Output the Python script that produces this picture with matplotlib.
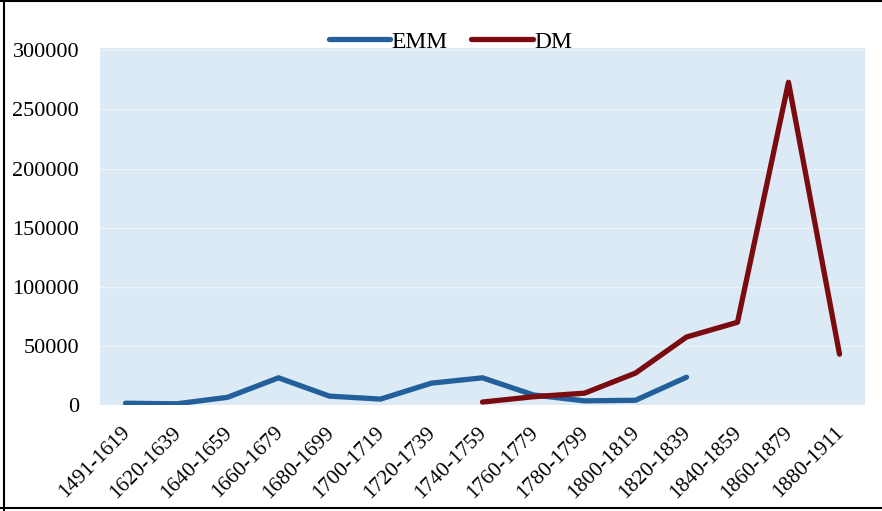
import matplotlib.pyplot as plt
import matplotlib.lines as mlines
import matplotlib.transforms as mtransforms
import numpy as np

# Migration counts per period
periods = ['1491-1619', '1620-1639', '1640-1659', '1660-1679', '1680-1699',
           '1700-1719', '1720-1739', '1740-1759', '1760-1779', '1780-1799',
           '1800-1819', '1820-1839', '1840-1859', '1860-1879', '1880-1911']
emm = [1500, 1000, 6500, 23000, 7500, 5000, 18500, 23000, 8500, 3500,
       4000, 23500, None, None, None]
dm = [None, None, None, None, None, None, None, 2500, 7000, 10000,
      27000, 57500, 70000, 273000, 43000]

emm = np.array([np.nan if v is None else v for v in emm], dtype=float)
dm = np.array([np.nan if v is None else v for v in dm], dtype=float)
x = np.arange(len(periods))

plt.rcParams['font.family'] = 'Liberation Serif'

fig = plt.figure(figsize=(8.82, 5.11), dpi=100)
ax = fig.add_axes([100 / 882, 1 - 405 / 511, 765 / 882, 357 / 511])
ax.set_facecolor('#dbeaf4')

ax.plot(x, emm, color='#23609b', lw=3.8, solid_capstyle='round',
        solid_joinstyle='round', label='EMM')
ax.plot(x, dm, color='#7a0b0e', lw=3.8, solid_capstyle='round',
        solid_joinstyle='round', label='DM')

ax.set_xlim(-0.5, len(periods) - 0.5)
ax.set_ylim(0, 302000)
ax.set_yticks(np.arange(0, 300001, 50000))
ax.set_yticklabels([str(v) for v in range(0, 300001, 50000)], fontsize=16)
ax.set_xticks(x)
ax.set_xticklabels(periods, rotation=45, ha='right', rotation_mode='anchor',
                   fontsize=15.5)
ax.tick_params(length=0)
ax.tick_params(axis='y', pad=15)
ax.tick_params(axis='x', pad=13)
shift = mtransforms.ScaledTranslation(-5 / 100, 0, fig.dpi_scale_trans)
for lbl in ax.get_xticklabels():
    lbl.set_transform(lbl.get_transform() + shift)
ax.grid(axis='y', color='#eef4f8', lw=1)
ax.set_axisbelow(True)
for s in ax.spines.values():
    s.set_visible(False)

ax.legend(loc='center', bbox_to_anchor=(0.458, 1.017), ncol=2,
          frameon=False, fontsize=17, handlelength=2.6,
          handletextpad=0.05, columnspacing=1.0, borderaxespad=0)

# outer frame on the left, top and bottom
fig.add_artist(mlines.Line2D([4 / 882, 4 / 882], [0, 1], color='black', lw=1.5,
                             transform=fig.transFigure))
fig.add_artist(mlines.Line2D([0, 1], [3 / 511, 3 / 511], color='black', lw=1.5,
                             transform=fig.transFigure))
fig.add_artist(mlines.Line2D([0, 1], [1 - 1 / 511, 1 - 1 / 511], color='black',
                             lw=1.5, transform=fig.transFigure))

fig.savefig('out.png', dpi=100)
